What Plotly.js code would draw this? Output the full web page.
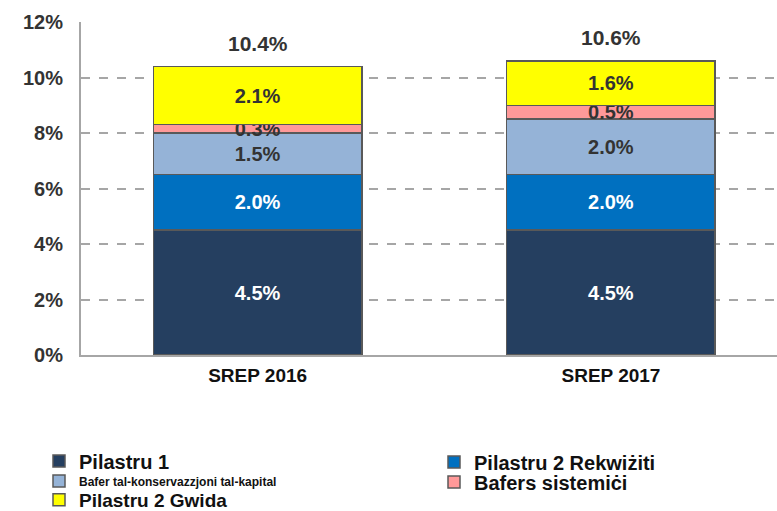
<!DOCTYPE html>
<html>
<head>
<meta charset="utf-8">
<script src="https://cdn.plot.ly/plotly-3.0.1.min.js"></script>
<style>
  html, body { margin: 0; padding: 0; background: #fff; }
  #chart { width: 777px; height: 511px; }
</style>
</head>
<body>
<div id="chart"></div>
<script>
// categories and series (percent)
const years = ['SREP 2016', 'SREP 2017'];
const pillar1 = [4.5, 4.5];
const p2Requirement = [2.0, 2.0];
const conservationBuffer = [1.5, 2.0];
const systemicBuffers = [0.3, 0.5];
const p2Guidance = [2.1, 1.6];
const totals = [10.4, 10.6];

const seriesNames = [
    'Pilastru 1',
    'Pilastru 2 Rekwiżiti',
    'Bafer tal-konservazzjoni tal-kapital',
    'Bafers sistemiċi',
    'Pilastru 2 Gwida'
];
const seriesValues = [pillar1, p2Requirement, conservationBuffer, systemicBuffers, p2Guidance];
const seriesColors = ['#253F60', '#0070C0', '#95B3D7', '#FF9999', '#FFFF00'];
const textColors = ['#ffffff', '#ffffff', '#333333', '#333333', '#333333'];

const font = 'Liberation Sans, Arial, sans-serif';

// one bar trace per series, stacked; each series has its own legend box
const legendIds = ['legend', 'legend2', 'legend3', 'legend4', 'legend5'];
const traces = seriesValues.map((vals, i) => ({
    type: 'bar',
    x: years,
    y: vals,
    name: seriesNames[i],
    legend: legendIds[i],
    width: 0.59,
    marker: {color: seriesColors[i], line: {color: '#595959', width: 1.5}},
    text: vals.map(v => v.toFixed(1) + '%'),
    textposition: 'inside',
    insidetextanchor: 'middle',
    textangle: 0,
    constraintext: 'none',
    cliponaxis: false,
    textfont: {family: font, size: 20, weight: 'bold', color: textColors[i]},
    hoverinfo: 'skip'
}));

// totals above the bars
const totalLabels = years.map((yr, i) => ({
    x: yr,
    y: totals[i],
    text: totals[i].toFixed(1) + '%',
    showarrow: false,
    yanchor: 'middle',
    yshift: 23,
    font: {family: font, size: 21, weight: 'bold', color: '#333333'}
}));

// legend boxes: x in page pixels (converted to paper), y in page pixels
function legendBox(xPx, yPx, size) {
    return {
        xref: 'paper',
        yref: 'container',
        x: (xPx - 81) / 696,
        y: 1 - yPx / 511,
        xanchor: 'left',
        yanchor: 'middle',
        itemwidth: 30,
        font: {family: font, size: size, weight: 'bold', color: '#111111'},
        bgcolor: 'rgba(0,0,0,0)'
    };
}

const layout = {
    width: 777,
    height: 511,
    margin: {l: 81, r: 0, t: 22, b: 156},
    barmode: 'stack',
    paper_bgcolor: '#ffffff',
    plot_bgcolor: '#ffffff',
    font: {family: font, color: '#333333'},
    xaxis: {
        range: [-0.5, 1.47],
        showline: true,
        linecolor: '#A6A6A6',
        linewidth: 2,
        ticks: '',
        tickangle: 0,
        ticklabelstandoff: 2,
        tickfont: {family: font, size: 19, weight: 'bold', color: '#111111'},
        showgrid: false
    },
    yaxis: {
        range: [0, 12],
        dtick: 2,
        ticksuffix: '%',
        showline: true,
        linecolor: '#A6A6A6',
        linewidth: 2,
        gridcolor: '#A6A6A6',
        gridwidth: 1.5,
        griddash: 'dash',
        zeroline: false,
        ticks: '',
        ticklabelstandoff: 12,
        tickfont: {family: font, size: 20, weight: 'bold', color: '#333333'}
    },
    annotations: totalLabels,
    showlegend: true,
    legend: legendBox(39, 461, 20),
    legend2: legendBox(434, 462, 20),
    legend3: legendBox(39, 481, 12),
    legend4: legendBox(434, 482, 20),
    legend5: legendBox(39, 500, 19)
};

Plotly.newPlot('chart', traces, layout, {displayModeBar: false, responsive: false});
</script>
</body>
</html>
